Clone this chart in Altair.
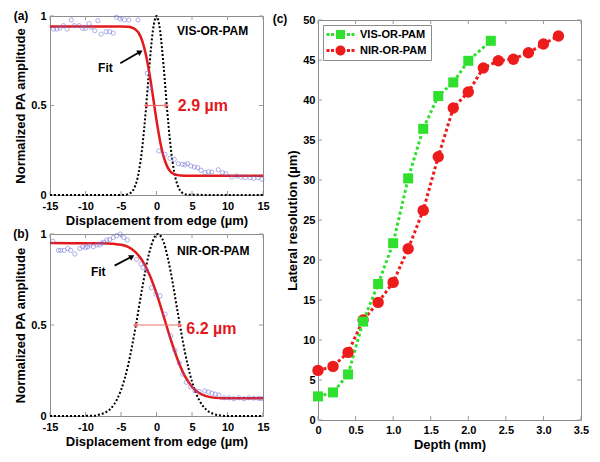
import altair as alt
import pandas as pd

FONT = "Liberation Sans"
FIT_RED = "#e31a1c"
SPAN_RED = "#f07070"
BLUE = "#7070dc"
GREEN = "#2fe02f"
RED = "#ec1c1c"
FRAME = "#8c8c8c"
TICK = "#9a9a9a"

# ---------------- panel (a) VIS-OR-PAM edge spread ----------------
a_pts_x = [-14.5, -14.05, -13.6, -13.1, -12.6, -12.0, -11.6, -10.9, -10.4, -10.0,
           -9.5, -9.2, -8.7, -8.25, -7.8, -7.1, -6.6, -6.1, -5.65, -5.1,
           -4.5, -3.9, -2.6, -1.3, -0.9, 0.33, 1.18, 1.88, 2.5, 3.07,
           3.63, 4.0, 4.39, 4.85, 5.33, 5.8, 6.27, 6.84, 7.3, 7.8,
           8.7, 9.3, 9.76, 10.6, 11.3, 11.9, 12.5, 13.2, 13.7, 14.3, 14.85]
a_pts_y = [0.927, 0.927, 0.933, 0.946, 0.927, 0.978, 0.946, 0.946, 0.931, 0.931,
           0.957, 0.937, 0.918, 0.974, 0.899, 0.912, 0.912, 0.905, 0.993, 0.983,
           0.978, 0.978, 0.978, 0.68, 0.60, 0.246, 0.227, 0.205, 0.199, 0.175,
           0.171, 0.168, 0.175, 0.162, 0.156, 0.153, 0.138, 0.125, 0.13, 0.128,
           0.141, 0.125, 0.119, 0.10, 0.106, 0.10, 0.097, 0.097, 0.093, 0.097, 0.088]
a_fit_x = [-15, -5, -4, -3.5, -3, -2.5, -2, -1.5, -1, -0.5, 0, 0.5, 1, 1.5, 2, 2.5, 3, 3.5, 4, 15]
a_fit_y = [0.942, 0.942, 0.94, 0.936, 0.926, 0.905, 0.86, 0.785, 0.68, 0.552, 0.418,
           0.302, 0.214, 0.16, 0.129, 0.116, 0.111, 0.109, 0.108, 0.108]
a_lsf_x = [-15, -5, -4.5, -4, -3.5, -3, -2.5, -2, -1.5, -1, -0.5, 0, 0.5, 1, 1.5, 2,
           2.5, 3, 3.5, 4, 4.5, 15]
a_lsf_y = [0, 0, 0.001, 0.005, 0.017, 0.051, 0.127, 0.267, 0.475, 0.72, 0.92, 1.0,
           0.92, 0.72, 0.475, 0.267, 0.127, 0.051, 0.017, 0.005, 0.001, 0]

# ---------------- panel (b) NIR-OR-PAM edge spread ----------------
b_pts_x = [-14.6, -13.8, -13.5, -13.0, -12.5, -12.1, -11.5, -10.8, -10.4, -10.0,
           -9.7, -9.4, -8.9, -8.4, -8.0, -7.7, -7.4, -7.0, -6.6, -6.1,
           -5.6, -5.1, -4.6, -4.1, -2.8, -2.2, -1.9, -1.4, -0.7, -0.1,
           0.5, 1.2, 2.0, 2.6, 3.2, 3.7, 4.2, 4.8, 5.4, 6.0,
           6.8, 7.3, 7.8, 8.3, 8.8, 9.5, 10.2, 10.9, 11.6, 12.3,
           13.0, 13.7, 14.4, 14.8]
b_pts_y = [0.96, 0.91, 0.91, 0.91, 0.92, 0.91, 0.89, 0.92, 0.93, 0.925,
           0.93, 0.94, 0.93, 0.94, 0.94, 0.95, 0.955, 0.967, 0.97, 0.98,
           0.99, 1.0, 0.98, 0.967, 0.86, 0.835, 0.815, 0.80, 0.705, 0.67,
           0.66, 0.56, 0.44, 0.36, 0.29, 0.23, 0.185, 0.16, 0.14, 0.135,
           0.137, 0.132, 0.125, 0.12, 0.115, 0.1, 0.1, 0.095, 0.1, 0.095,
           0.1, 0.098, 0.097, 0.095]
b_fit_x = [-15, -8, -7, -6, -5, -4, -3, -2, -1, 0, 1, 2, 3, 4, 5, 6, 7, 8, 9, 10, 15]
b_fit_y = [0.95, 0.949, 0.948, 0.946, 0.941, 0.929, 0.902, 0.854, 0.778, 0.674, 0.549,
           0.421, 0.308, 0.219, 0.161, 0.126, 0.109, 0.101, 0.098, 0.097, 0.097]
b_lsf_x = [-15, -9, -8, -7, -6, -5, -4, -3, -2, -1, 0, 0.2, 1, 2, 3, 4, 5, 6, 7, 8,
           9, 10, 15]
b_lsf_y = [0, 0.001, 0.008, 0.024, 0.062, 0.142, 0.279, 0.477, 0.705, 0.901, 0.997,
           1.0, 0.955, 0.791, 0.567, 0.352, 0.189, 0.088, 0.035, 0.012, 0.003, 0, 0]

edge_xticks = [-15, -10, -5, 0, 5, 10, 15]
edge_yticks = [0, 0.5, 1]

# ---------------- panel (c) resolution vs depth ----------------
series_names = ["VIS-OR-PAM", "NIR-OR-PAM"]
vis_depth = [0, 0.2, 0.4, 0.6, 0.8, 1.0, 1.2, 1.4, 1.6, 1.8, 2.0, 2.3]
vis_res = [2.95, 3.45, 5.7, 12.3, 17.0, 22.1, 30.2, 36.4, 40.5, 42.2, 44.9, 47.4]
nir_depth = [0, 0.2, 0.4, 0.6, 0.8, 1.0, 1.2, 1.4, 1.6, 1.8, 2.0, 2.2, 2.4, 2.6, 2.8, 3.0, 3.2]
nir_res = [6.2, 6.7, 8.45, 12.5, 14.7, 17.2, 21.4, 26.2, 32.9, 39.0, 41.0, 44.0, 44.9,
           45.1, 45.9, 47.0, 48.0]
depth_ticks = [0, 0.5, 1.0, 1.5, 2.0, 2.5, 3.0, 3.5]
res_ticks = [0, 5, 10, 15, 20, 25, 30, 35, 40, 45, 50]

# legend symbols: marker with dotted line segments on both sides
DOTS = "M-2.8,-0.3H-2.2V0.3H-2.8Z M-1.9,-0.3H-1.3V0.3H-1.9Z M1.3,-0.3H1.9V0.3H1.3Z M2.2,-0.3H2.8V0.3H2.2Z"
SQ_PATH = "M-0.9,-0.9H0.9V0.9H-0.9Z " + DOTS
CI_PATH = "M1,0A1,1,0,1,1,-1,0A1,1,0,1,1,1,0Z " + DOTS


def edge_panel(pts_x, pts_y, fit_x, fit_y, lsf_x, lsf_y, name, name_xy, fit_xy,
               arrow, arrow_angle, fwhm_text, fwhm_xy, span, tag, width, height):
    xs = alt.Scale(domain=[-15, 15], nice=False, zero=False)
    ys = alt.Scale(domain=[0, 1], nice=False, zero=False)
    X = alt.X("x:Q", scale=xs, axis=alt.Axis(values=edge_xticks, title="Displacement from edge (µm)",
                                              labelExpr="datum.value + ''", labelPadding=5,
                                              titlePadding=3))
    Y = alt.Y("y:Q", scale=ys, axis=alt.Axis(values=edge_yticks, title="Normalized PA amplitude",
                                              labelExpr="datum.value + ''", labelPadding=4,
                                              titlePadding=3))
    xt = pd.DataFrame({"x": edge_xticks})
    yt = pd.DataFrame({"y": edge_yticks})
    layers = [
        alt.Chart(xt).mark_rule(color=TICK).encode(x=X, y=alt.value(height - 4), y2=alt.value(height)),
        alt.Chart(xt).mark_rule(color=TICK).encode(x=X, y=alt.value(0), y2=alt.value(4)),
        alt.Chart(yt).mark_rule(color=TICK).encode(y=Y, x=alt.value(0), x2=alt.value(4)),
        alt.Chart(yt).mark_rule(color=TICK).encode(y=Y, x=alt.value(width - 4), x2=alt.value(width)),
        alt.Chart(pd.DataFrame({"x": lsf_x, "y": lsf_y})).mark_line(
            color="black", strokeDash=[2, 2], strokeWidth=2, interpolate="monotone").encode(x=X, y=Y),
        alt.Chart(pd.DataFrame({"x": fit_x, "y": fit_y})).mark_line(
            color=FIT_RED, strokeWidth=2.5, interpolate="monotone").encode(x=X, y=Y),
        alt.Chart(pd.DataFrame({"x": pts_x, "y": pts_y})).mark_point(
            shape="circle", filled=False, color=BLUE, size=18, strokeWidth=0.8).encode(x=X, y=Y),
        alt.Chart(pd.DataFrame({"x": [span[0]], "x2": [span[1]], "y": [0.5]})).mark_rule(
            color=SPAN_RED, strokeWidth=1.2).encode(x=X, x2="x2:Q", y=Y),
        alt.Chart(pd.DataFrame({"x": [span[0], span[1]], "y": [0.5, 0.5],
                                "s": ["triangle-left", "triangle-right"]})).mark_point(
            filled=True, color=SPAN_RED, size=28, opacity=1).encode(
            x=X, y=Y, shape=alt.Shape("s:N", scale=None)),
        alt.Chart(pd.DataFrame({"x": [arrow[0]], "x2": [arrow[2]], "y": [arrow[1]], "y2": [arrow[3]]})).mark_rule(
            color="black", strokeWidth=1.8).encode(x=X, x2="x2:Q", y=Y, y2="y2:Q"),
        alt.Chart(pd.DataFrame({"x": [arrow[2]], "y": [arrow[3]]})).mark_point(
            shape="triangle-up", filled=True, color="black", size=40, angle=arrow_angle, opacity=1).encode(x=X, y=Y),
        alt.Chart(pd.DataFrame({"x": [name_xy[0]], "y": [name_xy[1]], "t": [name]})).mark_text(
            font=FONT, fontWeight="bold", fontSize=12, color="black").encode(x=X, y=Y, text="t:N"),
        alt.Chart(pd.DataFrame({"x": [fit_xy[0]], "y": [fit_xy[1]], "t": ["Fit"]})).mark_text(
            font=FONT, fontWeight="bold", fontSize=12, color="black").encode(x=X, y=Y, text="t:N"),
        alt.Chart(pd.DataFrame({"x": [fwhm_xy[0]], "y": [fwhm_xy[1]], "t": [fwhm_text]})).mark_text(
            font=FONT, fontWeight="bold", fontSize=16, color=FIT_RED, align="left").encode(x=X, y=Y, text="t:N"),
        alt.Chart(pd.DataFrame({"t": [tag]})).mark_text(
            font=FONT, fontWeight="bold", fontSize=12, color="black").encode(
            x=alt.value(-29), y=alt.value(0), text="t:N"),
    ]
    return alt.layer(*layers).properties(width=width, height=height)


panel_a = edge_panel(a_pts_x, a_pts_y, a_fit_x, a_fit_y, a_lsf_x, a_lsf_y,
                     "VIS-OR-PAM", (7.9, 0.915), (-7.2, 0.71),
                     (-5.1, 0.736, -2.3, 0.80), 59, "2.9 µm", (3.0, 0.5), (-1.5, 1.45),
                     "(a)", 213, 179)
panel_b = edge_panel(b_pts_x, b_pts_y, b_fit_x, b_fit_y, b_lsf_x, b_lsf_y,
                     "NIR-OR-PAM", (8.0, 0.908), (-8.2, 0.79),
                     (-5.9, 0.826, -3.45, 0.876), 61, "6.2 µm", (4.2, 0.48), (-3.0, 3.35),
                     "(b)", 213, 182)

# ---------------- panel (c) ----------------
CW, CH = 263, 400
cx = alt.Scale(domain=[0, 3.5], nice=False, zero=False)
cy = alt.Scale(domain=[0, 50], nice=False, zero=False)
CX = alt.X("depth:Q", scale=cx, axis=alt.Axis(values=depth_ticks, title="Depth (mm)",
                                              labelExpr="datum.value == 0 ? '0' : format(datum.value, '.1f')",
                                              labelPadding=4, titlePadding=3))
CY = alt.Y("res:Q", scale=cy, axis=alt.Axis(values=res_ticks, title="Lateral resolution (µm)",
                                            labelPadding=3, titlePadding=3))

vis_df = pd.DataFrame({"depth": vis_depth, "res": vis_res, "series": series_names[0]})
nir_df = pd.DataFrame({"depth": nir_depth, "res": nir_res, "series": series_names[1]})
all_df = pd.concat([vis_df, nir_df], ignore_index=True)

leg = alt.Legend(title=None, orient="top-left", offset=5, padding=4, rowPadding=4,
                 symbolSize=100, symbolOpacity=1, symbolOffset=8, labelOffset=14,
                 symbolStrokeWidth=0, labelFont=FONT, labelFontWeight="bold",
                 labelFontSize=11, labelColor="black", strokeColor=FRAME, fillColor="white",
                 cornerRadius=0)

cdx = pd.DataFrame({"depth": depth_ticks})
cdy = pd.DataFrame({"res": res_ticks})
c_layers = [
    alt.Chart(cdx).mark_rule(color=TICK).encode(x=CX, y=alt.value(CH - 4), y2=alt.value(CH)),
    alt.Chart(cdx).mark_rule(color=TICK).encode(x=CX, y=alt.value(0), y2=alt.value(4)),
    alt.Chart(cdy).mark_rule(color=TICK).encode(y=CY, x=alt.value(0), x2=alt.value(4)),
    alt.Chart(cdy).mark_rule(color=TICK).encode(y=CY, x=alt.value(CW - 4), x2=alt.value(CW)),
    alt.Chart(nir_df).mark_line(color=RED, strokeDash=[3, 2.6], strokeWidth=3).encode(x=CX, y=CY),
    alt.Chart(vis_df).mark_line(color=GREEN, strokeDash=[3, 2.6], strokeWidth=3).encode(x=CX, y=CY),
    alt.Chart(nir_df).mark_point(shape="circle", filled=True, color=RED, size=130, opacity=1).encode(x=CX, y=CY),
    alt.Chart(vis_df).mark_point(shape="square", filled=True, color=GREEN, size=100, opacity=1).encode(x=CX, y=CY),
    alt.Chart(all_df).mark_point(filled=True, opacity=0).encode(
        x=CX, y=CY,
        color=alt.Color("series:N", scale=alt.Scale(domain=series_names, range=[GREEN, RED]), legend=leg),
        shape=alt.Shape("series:N", scale=alt.Scale(domain=series_names, range=[SQ_PATH, CI_PATH]), legend=leg)),
    alt.Chart(pd.DataFrame({"t": ["(c)"]})).mark_text(
        font=FONT, fontWeight="bold", fontSize=12, color="black").encode(
        x=alt.value(-38), y=alt.value(-1), text="t:N"),
]
panel_c = alt.layer(*c_layers).properties(width=CW, height=CH)

spacer = alt.Chart(pd.DataFrame({"v": [0]})).mark_point(opacity=0).encode(
    x=alt.value(0), y=alt.value(0)).properties(width=CW, height=4, view=alt.ViewBackground(strokeOpacity=0))

left = alt.vconcat(panel_a, panel_b, spacing=39, bounds="flush").resolve_scale(
    color="independent", shape="independent")
right = alt.vconcat(spacer, panel_c, spacing=0, bounds="flush").resolve_scale(
    color="independent", shape="independent")

chart = alt.hconcat(left, right, spacing=2).resolve_scale(
    color="independent", shape="independent"
).properties(
    padding={"left": 4, "top": 1, "right": 0, "bottom": 0}
).configure_view(
    stroke=FRAME, strokeWidth=1
).configure_axis(
    labelFont=FONT, labelFontWeight="bold", labelFontSize=11, labelColor="black",
    titleFont=FONT, titleFontWeight="bold", titleFontSize=13, titleColor="black",
    domain=False, ticks=False, grid=False, labelPadding=3, labelFlush=False
)

chart.save("out.html", embed_options={"renderer": "svg", "actions": False})
